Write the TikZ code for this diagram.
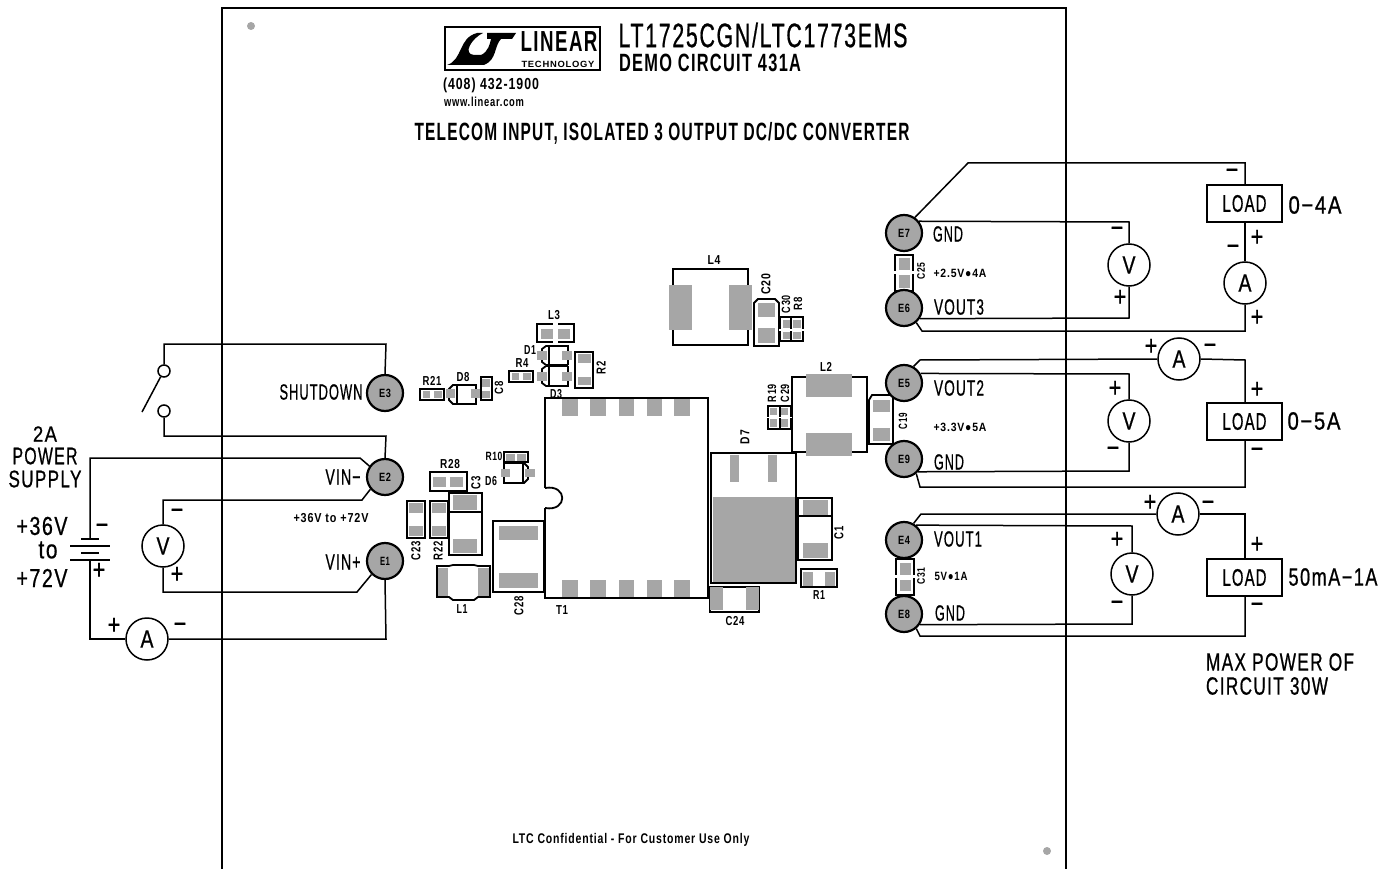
\documentclass[tikz,border=0pt]{standalone}
\usepackage{fontspec}
\setmainfont[FakeStretch=0.76,LetterSpace=6,UprightFeatures={FakeBold=0.7}]{Liberation Sans}
\newcommand{\fitw}[3]{{\fontsize{#2}{#2}\selectfont\resizebox{#1pt}{\height}{#3}}}
\definecolor{padgrey}{HTML}{A6A6A6}
\begin{document}
\begin{tikzpicture}[x=1pt,y=-1pt,
  wire/.style={line width=1.5pt,line join=miter},
  board/.style={line width=2.6pt},
  part/.style={line width=1.8pt},
  pad/.style={fill=padgrey},
  term/.style={circle,draw,line width=2.2pt,fill=padgrey,minimum size=36pt,inner sep=0pt,font=\bfseries},
  meter/.style={circle,draw,line width=1.5pt,fill=white,minimum size=42pt,inner sep=0pt},
  loadbox/.style={rectangle,draw,line width=1.8pt,fill=white,minimum width=75pt,minimum height=37pt,inner sep=0pt},
  txt/.style={inner sep=0pt},
  lab/.style={inner sep=0pt,font=\bfseries},
  sign/.style={inner sep=0pt,font=\fontsize{28}{28}\selectfont}]
\useasboundingbox (0,0) rectangle (1395,869);

% board outline and holes
\draw[board] (222,869) -- (222,8) -- (1066,8) -- (1066,869);
\fill[padgrey] (251,26) circle (4pt);
\fill[padgrey] (1047,851) circle (4pt);

% logo
\draw[line width=1.6pt] (445,27) rectangle (600,70);
\fill (447,65) .. controls (463,60) and (458,38) .. (477,33) -- (483,33)
  .. controls (472,38) and (462,54) .. (474,55) -- (481,55)
  .. controls (488,52) and (490,44) .. (491,39) -- (487,39) -- (487,33) -- (516,33) -- (512,39) -- (501,39)
  .. controls (494,46) and (497,60) .. (484,65) -- cycle;
\node[lab] (logoname) at (559,42) {\fitw{77}{29}{LINEAR}};
\node[lab] (logosub) at (558,64) {\fitw{73}{9}{TECHNOLOGY}};

% headings
\node[txt] (title) at (763,35) {\fitw{289}{34}{LT1725CGN/LTC1773EMS}};
\node[lab] (demo) at (710,63) {\fitw{182}{25}{DEMO CIRCUIT 431A}};
\node[lab] (phone) at (491,85) {\fitw{96}{16}{(408) 432-1900}};
\node[lab] (web) at (484,102) {\fitw{80}{13}{www.linear.com}};
\node[lab] (telecom) at (662,133) {\fitw{495}{25}{TELECOM INPUT, ISOLATED 3 OUTPUT DC/DC CONVERTER}};
\node[lab] (conf) at (631,840) {\fitw{237}{14}{LTC Confidential - For Customer Use Only}};

% T1
\draw[part] (545,488) -- (545,398) -- (708,398) -- (708,598) -- (545,598) -- (545,508);
\draw[part] (545,488) .. controls (568,484) and (568,512) .. (545,508);
\foreach \xa/\xb in {562/578,590/606,619/634,647/662,674/690} {
  \fill[pad] (\xa,399) rectangle (\xb,416);
  \fill[pad] (\xa,580) rectangle (\xb,597);
}
\node[lab] (lT1) at (562,610) {\fitw{12}{13}{T1}};

% D7
\draw[part] (711,453) rectangle (796,583);
\fill[pad] (730,455) rectangle (739,482);
\fill[pad] (768,455) rectangle (777,482);
\fill[pad] (713,497) rectangle (795,582);
\node[lab,rotate=90] (lD7) at (745,437) {\fitw{14}{13}{D7}};

% L4 C20 C30 R8
\draw[part] (673,330) -- (673,345) -- (748,345) -- (748,330);
\draw[part] (673,285) -- (673,269) -- (748,269) -- (748,285);
\fill[pad] (669,285) rectangle (692,330);
\fill[pad] (729,285) rectangle (752,330);
\node[lab] (lL4) at (714,260) {\fitw{13}{13}{L4}};
\draw[part] (754,346) -- (754,303) -- (758,299) -- (775,299) -- (779,303) -- (779,346) -- cycle;
\fill[pad] (758,303) rectangle (775,317);
\fill[pad] (758,328) rectangle (775,343);
\node[lab,rotate=90] (lC20) at (766,284) {\fitw{21}{13}{C20}};
\draw[part] (780,317) rectangle (803,341);
\draw[part] (791,317) -- (791,341);
\fill[pad] (783,320) rectangle (790,328);
\fill[pad] (793,320) rectangle (801,328);
\fill[pad] (783,332) rectangle (790,339);
\fill[pad] (793,332) rectangle (801,339);
\fill[white] (779,329) rectangle (804,331);
\node[lab,rotate=90] (lC30) at (786,304) {\fitw{18}{12}{C30}};
\node[lab,rotate=90] (lR8) at (798,304) {\fitw{13}{12}{R8}};

% L3 D1 D3 R4 R2
\draw[part] (537,324) rectangle (574,342);
\fill[white] (553,322) rectangle (558,344);
\fill[pad] (541,329) rectangle (553,339);
\fill[pad] (558,329) rectangle (570,339);
\node[lab] (lL3) at (554,315) {\fitw{12}{13}{L3}};
\draw[part] (546,365) -- (542,362) -- (542,349) -- (546,346) -- (568,346) -- (568,365);
\draw[part] (546,366) -- (542,369) -- (542,383) -- (546,386) -- (568,386) -- (568,366);
\draw[line width=2.4pt] (546,365.5) -- (568,365.5);
\draw[part] (549,346) -- (549,386);
\fill[pad] (537,351) rectangle (547,360);
\fill[pad] (562,351) rectangle (572,360);
\fill[pad] (537,372) rectangle (547,381);
\fill[pad] (562,372) rectangle (572,381);
\node[lab] (lD1) at (530,350) {\fitw{12}{13}{D1}};
\node[lab] (lD3) at (556,394) {\fitw{12}{13}{D3}};
\draw[part] (509,371) rectangle (533,382);
\fill[pad] (512,373) rectangle (519,380);
\fill[pad] (523,373) rectangle (531,380);
\node[lab] (lR4) at (522,363) {\fitw{13}{13}{R4}};
\draw[part] (575,352) rectangle (593,388);
\fill[pad] (578,354) rectangle (591,363);
\fill[pad] (578,377) rectangle (591,385);
\node[lab,rotate=90] (lR2) at (601,368) {\fitw{13}{13}{R2}};

% R21 D8 C8
\draw[part] (420,389) rectangle (444,400);
\fill[pad] (423,391) rectangle (430,398);
\fill[pad] (434,391) rectangle (442,398);
\node[lab] (lR21) at (432,381) {\fitw{19}{13}{R21}};
\draw[part] (476,385) -- (453,385) -- (449,389) -- (449,400) -- (453,404) -- (476,404) -- cycle;
\draw[part] (457,385) -- (457,404);
\fill[pad] (446,389) rectangle (455,398);
\fill[pad] (471,389) rectangle (481,398);
\node[lab] (lD8) at (463,377) {\fitw{13}{13}{D8}};
\draw[part] (481,377) rectangle (492,400);
\fill[pad] (482,379) rectangle (490,387);
\fill[pad] (482,391) rectangle (490,398);
\node[lab,rotate=90] (lC8) at (499,388) {\fitw{13}{12}{C8}};

% R10 D6
\draw[part] (504,452) rectangle (528,462);
\fill[pad] (506,454) rectangle (515,461);
\fill[pad] (517,454) rectangle (526,461);
\node[lab] (lR10) at (494,456) {\fitw{17}{12}{R10}};
\draw[part] (504,463) -- (524,463) -- (528,467) -- (528,479) -- (524,483) -- (504,483) -- cycle;
\draw[part] (523,463) -- (523,483);
\fill[pad] (501,469) rectangle (510,477);
\fill[pad] (525,469) rectangle (535,477);
\node[lab] (lD6) at (491,481) {\fitw{12}{13}{D6}};

% R28 C3 C23 R22
\draw[part] (430,472) rectangle (467,491);
\fill[pad] (433,477) rectangle (446,487);
\fill[pad] (450,477) rectangle (463,487);
\node[lab] (lR28) at (450,464) {\fitw{20}{13}{R28}};
\draw[part] (449,493) rectangle (482,555);
\draw[part] (449,512) -- (482,512);
\draw[line width=2.6pt] (449,493) -- (449,555);
\fill[pad] (453,495) rectangle (477,510);
\fill[pad] (453,539) rectangle (477,553);
\node[lab,rotate=90] (lC3) at (476,483) {\fitw{13}{13}{C3}};
\draw[part] (407,501) rectangle (425,538);
\fill[pad] (409,503) rectangle (423,513);
\fill[pad] (409,526) rectangle (423,536);
\node[lab,rotate=90] (lC23) at (416,551) {\fitw{19}{13}{C23}};
\draw[part] (430,501) rectangle (448,538);
\fill[pad] (432,503) rectangle (446,513);
\fill[pad] (432,526) rectangle (446,536);
\node[lab,rotate=90] (lR22) at (438,551) {\fitw{19}{13}{R22}};

% L1 C28
\draw[part] (437,566) -- (449,566) -- (453,565) -- (474,565) -- (478,566) -- (490,566) -- (490,597)
  -- (478,597) -- (474,600) -- (453,600) -- (449,597) -- (437,597) -- cycle;
\fill[pad] (438,568) rectangle (448,596);
\fill[pad] (478,568) rectangle (489,596);
\node[lab] (lL1) at (462,609) {\fitw{11}{13}{L1}};
\draw[part] (493,521) rectangle (544,592);
\fill[pad] (499,526) rectangle (538,540);
\fill[pad] (499,573) rectangle (538,588);
\node[lab,rotate=90] (lC28) at (519,606) {\fitw{19}{13}{C28}};

% C24 C1 R1
\draw[part] (710,587) rectangle (759,612);
\fill[pad] (710,587) rectangle (723,610);
\fill[pad] (746,587) rectangle (759,610);
\node[lab] (lC24) at (735,621) {\fitw{19}{13}{C24}};
\draw[part] (798,498) rectangle (832,560);
\draw[part] (798,516) -- (832,516);
\fill[pad] (803,500) rectangle (828,515);
\fill[pad] (803,543) rectangle (828,558);
\node[lab,rotate=90] (lC1) at (839,533) {\fitw{13}{13}{C1}};
\draw[part] (801,569) rectangle (837,587);
\fill[pad] (803,572) rectangle (813,586);
\fill[pad] (825,572) rectangle (835,586);
\node[lab] (lR1) at (819,595) {\fitw{12}{13}{R1}};

% L2 R19 C29 C19
\draw[part] (806,377) -- (792,377) -- (792,452) -- (806,452);
\draw[part] (852,377) -- (867,377) -- (867,452) -- (852,452);
\fill[pad] (806,374) rectangle (852,397);
\fill[pad] (806,433) rectangle (852,456);
\node[lab] (lL2) at (826,367) {\fitw{12}{13}{L2}};
\draw[part] (768,406) rectangle (791,429);
\draw[part] (780,406) -- (780,429);
\fill[pad] (770,408) rectangle (777,415);
\fill[pad] (781,408) rectangle (788,415);
\fill[pad] (770,419) rectangle (777,427);
\fill[pad] (781,419) rectangle (788,427);
\fill[white] (767,416.5) rectangle (792,418);
\node[lab,rotate=90] (lR19) at (772,393) {\fitw{18}{12}{R19}};
\node[lab,rotate=90] (lC29) at (785,393) {\fitw{18}{12}{C29}};
\draw[part] (869,444) -- (869,400) -- (872,395) -- (893,395) -- (893,444) -- cycle;
\fill[pad] (873,400) rectangle (890,412);
\fill[pad] (873,428) rectangle (890,441);
\node[lab,rotate=90] (lC19) at (903,421) {\fitw{16}{12}{C19}};

% C25 C31
\draw[part] (895,255) rectangle (913,291);
\fill[white] (893,271) rectangle (915,274);
\fill[pad] (899,258) rectangle (910,270);
\fill[pad] (899,275) rectangle (910,288);
\node[lab,rotate=90] (lC25) at (921,271) {\fitw{17}{11}{C25}};
\draw[part] (896,559) rectangle (914,595);
\fill[white] (894,575) rectangle (916,578);
\fill[pad] (900,563) rectangle (911,575);
\fill[pad] (900,580) rectangle (911,591);
\node[lab,rotate=90] (lC31) at (921,576) {\fitw{17}{11}{C31}};

% turrets
\node[term] (E3) at (385,393) {\fitw{12}{12}{E3}};
\node[term] (E2) at (385,477) {\fitw{12}{12}{E2}};
\node[term] (E1) at (385,561) {\fitw{10}{12}{E1}};
\node[term] (E7) at (904,233) {\fitw{12}{12}{E7}};
\node[term] (E6) at (904,308) {\fitw{12}{12}{E6}};
\node[term] (E5) at (904,383) {\fitw{12}{12}{E5}};
\node[term] (E9) at (904,459) {\fitw{12}{12}{E9}};
\node[term] (E4) at (904,540) {\fitw{12}{12}{E4}};
\node[term] (E8) at (904,614) {\fitw{12}{12}{E8}};

% input side
\node[circle,draw,line width=1.5pt,minimum size=12pt,inner sep=0pt] (swa) at (164,371) {};
\node[circle,draw,line width=1.5pt,minimum size=12pt,inner sep=0pt] (swb) at (164,411) {};
\coordinate (arm) at (142,412);
\draw[wire] (swa.-120) -- (arm);
\draw[wire] (swa.north) -- (164,344) -- (386,344) -- (E3.north);
\draw[wire] (swb.south) -- (164,436) -- (386,436) -- (E2.north);
\node[meter] (Vin) at (163,546) {\fitw{13}{25}{V}};
\node[meter] (Ain) at (147,639) {\fitw{13}{25}{A}};
\coordinate (batp) at (90,560);
\coordinate (batn) at (90,539);
\draw[wire] (E2.145) -- (360,458) -- (90,458) -- (batn);
\draw[wire] (batp) -- (90,639) -- (Ain.west);
\draw[wire] (Ain.east) -- (386,639) -- (E1.south);
\draw[wire] (Vin.north) -- (163,500) -- (362,500) -- (E2.-140);
\draw[wire] (Vin.south) -- (163,592) -- (357,592) -- (E1.-135);
\draw[wire] (81,539) -- (99,539);
\draw[wire] (70,546) -- (110,546);
\draw[wire] (81,553) -- (99,553);
\draw[wire] (70,560) -- (110,560);
\node[txt] (t2a) at (45,434) {\fitw{24}{22}{2A}};
\node[txt] (tpower) at (45,456) {\fitw{65}{24}{POWER}};
\node[txt] (tsupply) at (45,479) {\fitw{73}{24}{SUPPLY}};
\node[txt] (t36) at (42,526) {\fitw{51}{26}{+36V}};
\node[txt] (tto) at (48,550) {\fitw{19}{26}{to}};
\node[txt] (t72) at (42,578) {\fitw{51}{26}{+72V}};
\node[sign] (p1) at (102,529) {−};
\node[sign] (p2) at (99,571) {+};
\node[sign] (p3) at (177,514) {−};
\node[sign] (p4) at (177,575) {+};
\node[sign] (p5) at (114,626) {+};
\node[sign] (p6) at (180,628) {−};
\node[txt] (tsd) at (321,392) {\fitw{83}{22}{SHUTDOWN}};
\node[txt] (tvinm) at (343,477) {\fitw{35}{22}{VIN−}};
\node[txt] (tvinp) at (343,562) {\fitw{35}{22}{VIN+}};
\node[lab] (trange) at (331,518) {\fitw{75}{13}{+36V to +72V}};

% output 3
\node[meter] (V3) at (1129,265) {\fitw{13}{25}{V}};
\node[meter] (A3) at (1245,283) {\fitw{13}{25}{A}};
\node[loadbox] (LD3) at (1244.5,203.5) {\fitw{44}{24}{LOAD}};
\draw[wire] (E7.55) -- (968,163) -- (1245,163) -- (LD3.north -| 1245,0);
\draw[wire] (LD3.south -| 1245,0) -- (A3.north);
\draw[wire] (A3.south) -- (1245,331) -- (922,331) -- (E6.-50);
\draw[wire] (E7.38) -- (1129,222) -- (V3.north);
\draw[wire] (V3.south) -- (1129,318) -- (E6.-34);
\node[sign] (p7) at (1232,174) {−};
\node[sign] (p8) at (1257,238) {+};
\node[sign] (p9) at (1233,250) {−};
\node[sign] (p10) at (1257,318) {+};
\node[sign] (p11) at (1117,232) {−};
\node[sign] (p12) at (1120,298) {+};
\node[txt] (tgnd3) at (948,234) {\fitw{30}{22}{GND}};
\node[lab] (tv3) at (960,273) {\fitw{53}{12}{+2.5V●4A}};
\node[txt] (tvout3) at (959,307) {\fitw{50}{22}{VOUT3}};
\node[txt] (t3a) at (1315,205) {\fitw{53}{25}{0−4A}};

% output 2
\node[meter] (V2) at (1129,421) {\fitw{13}{25}{V}};
\node[meter] (A2) at (1179,359) {\fitw{13}{25}{A}};
\node[loadbox] (LD2) at (1244.5,421.5) {\fitw{44}{24}{LOAD}};
\draw[wire] (E5.60) -- (920,360) -- (A2.west);
\draw[wire] (A2.east) -- (1245,360) -- (LD2.north -| 1245,0);
\draw[wire] (LD2.south -| 1245,0) -- (1245,487) -- (920,487) -- (E9.-50);
\draw[wire] (E5.30) -- (1129,374) -- (V2.north);
\draw[wire] (V2.south) -- (1129,471) -- (E9.-42);
\node[sign] (p13) at (1151,347) {+};
\node[sign] (p14) at (1210,349) {−};
\node[sign] (p15) at (1257,390) {+};
\node[sign] (p16) at (1257,453) {−};
\node[sign] (p17) at (1115,389) {+};
\node[sign] (p18) at (1113,452) {−};
\node[txt] (tvout2) at (959,388) {\fitw{50}{22}{VOUT2}};
\node[lab] (tv2) at (960,427) {\fitw{53}{12}{+3.3V●5A}};
\node[txt] (tgnd2) at (949,462) {\fitw{30}{22}{GND}};
\node[txt] (t2r) at (1314,421) {\fitw{53}{25}{0−5A}};

% output 1
\node[meter] (V1) at (1132,574) {\fitw{13}{25}{V}};
\node[meter] (A1) at (1178,514) {\fitw{13}{25}{A}};
\node[loadbox] (LD1) at (1244.5,577.5) {\fitw{44}{24}{LOAD}};
\draw[wire] (E4.60) -- (921,514) -- (A1.west);
\draw[wire] (A1.east) -- (1245,514) -- (LD1.north -| 1245,0);
\draw[wire] (LD1.south -| 1245,0) -- (1245,636) -- (920,636) -- (E8.-50);
\draw[wire] (E4.51) -- (1132,526) -- (V1.north);
\draw[wire] (V1.south) -- (1132,624) -- (E8.-34);
\node[sign] (p19) at (1150,503) {+};
\node[sign] (p20) at (1208,506) {−};
\node[sign] (p21) at (1257,545) {+};
\node[sign] (p22) at (1257,608) {−};
\node[sign] (p23) at (1117,540) {+};
\node[sign] (p24) at (1117,606) {−};
\node[txt] (tvout1) at (958,539) {\fitw{48}{22}{VOUT1}};
\node[lab] (tv1) at (951,576) {\fitw{33}{12}{5V●1A}};
\node[txt] (tgnd1) at (950,613) {\fitw{30}{22}{GND}};
\node[txt] (t1r) at (1333,577) {\fitw{89}{25}{50mA−1A}};
\node[txt] (tmax) at (1280,662) {\fitw{148}{25}{MAX POWER OF}};
\node[txt] (tcirc) at (1267,686) {\fitw{122}{25}{CIRCUIT 30W}};
\end{tikzpicture}
\end{document}
